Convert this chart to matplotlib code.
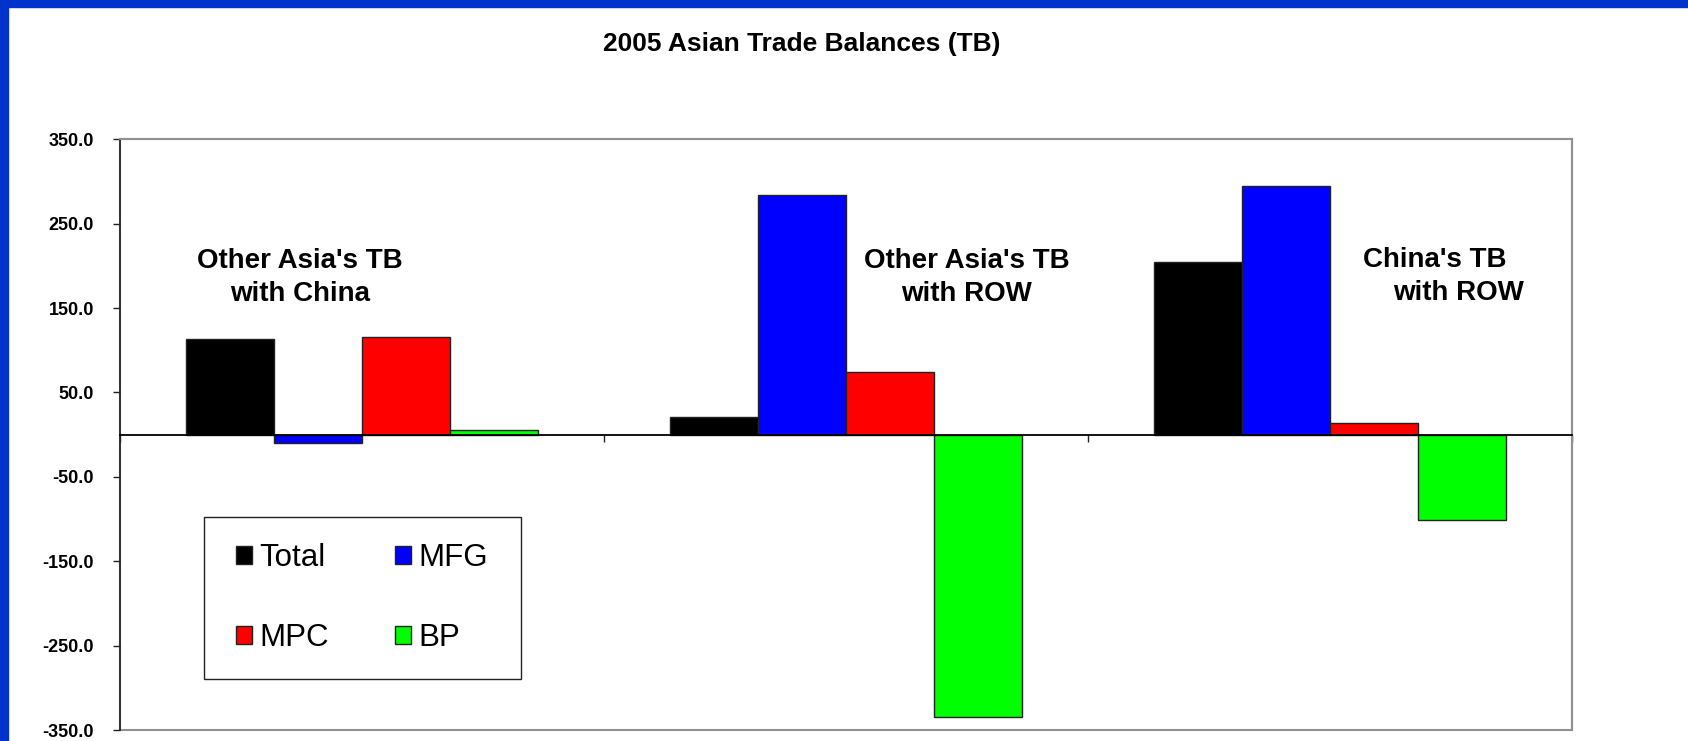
import numpy as np
import matplotlib.pyplot as plt
from matplotlib.patches import Rectangle

plt.rcParams['font.family'] = ['Liberation Sans', 'DejaVu Sans']

# trade balances, billions
groups = ["Other Asia's TB\nwith China", "Other Asia's TB\nwith ROW", "China's TB\nwith ROW"]
series = ['Total', 'MFG', 'MPC', 'BP']
total = [113, 21, 205]
mfg = [-10, 284, 295]
mpc = [116, 74, 14]
bp = [5, -335, -101]
colors = ['#000000', '#0000FF', '#FF0000', '#00FF00']
yticks = [-350, -250, -150, -50, 50, 150, 250, 350]

fig = plt.figure(figsize=(16.88, 7.41), dpi=100)
fig.patch.set_facecolor('white')

# blue frame on top and left
fig.add_artist(Rectangle((0, 1 - 7 / 741), 1, 7 / 741, transform=fig.transFigure,
                         color='#0033CC', zorder=10))
fig.add_artist(Rectangle((0, 0), 8 / 1688, 1, transform=fig.transFigure,
                         color='#0033CC', zorder=10))

ax = fig.add_axes([0.0708, 0.01484, 0.8603, 0.7972])

x = np.arange(len(groups))
w = 1 / 5.5
vals = [total, mfg, mpc, bp]
bars = []
for i, (v, c, name) in enumerate(zip(vals, colors, series)):
    b = ax.bar(x + (i - 1.5) * w, v, width=w, color=c, edgecolor='#222222',
               linewidth=1.0, label=name, zorder=3)
    bars.append(b)

ax.set_xlim(-0.5, 2.5)
ax.set_ylim(-350, 350)
ax.set_yticks(yticks)
ax.set_yticklabels(['%.1f' % t for t in yticks], fontsize=13, fontweight='bold')
ax.tick_params(axis='y', direction='out', length=5, width=1, pad=13.5, color='#222222')

# category axis sits on the zero line
ax.spines['bottom'].set_position(('data', 0))
ax.spines['bottom'].set_color('black')
ax.spines['bottom'].set_linewidth(1.3)
ax.spines['bottom'].set_zorder(4)
ax.set_xticks([-0.5, 0.5, 1.5, 2.5])
ax.set_xticklabels([])
ax.tick_params(axis='x', direction='out', length=5, width=1, color='#222222')

ax.spines['left'].set_color('#222222')
ax.spines['left'].set_linewidth(1.2)
for s in ['top', 'right']:
    ax.spines[s].set_color('#909090')
    ax.spines[s].set_linewidth(1.5)
# lower edge of plot area
ax.add_patch(Rectangle((0, 0), 1, 1, transform=ax.transAxes, fill=False,
                       ec='#909090', lw=1.5, zorder=0, clip_on=False))

# group labels
ax.text(0.1241, 0.766, groups[0], transform=ax.transAxes, ha='center', va='center',
        fontsize=20, fontweight='bold', linespacing=1.35)
ax.text(0.5836, 0.766, groups[1], transform=ax.transAxes, ha='center', va='center',
        fontsize=20, fontweight='bold', linespacing=1.35)
line1, line2 = groups[2].split('\n')
ax.text(0.9058, 0.796, line1, transform=ax.transAxes, ha='center', va='center',
        fontsize=20, fontweight='bold')
ax.text(0.9222, 0.740, line2, transform=ax.transAxes, ha='center', va='center',
        fontsize=20, fontweight='bold')

# legend box drawn separately, entries filled row by row
ax.add_patch(Rectangle((0.0582, 0.0863), 0.2183, 0.2748, transform=ax.transAxes,
                       fc='white', ec='#222222', lw=1.0, zorder=5))
order = [0, 2, 1, 3]
leg = ax.legend([bars[i] for i in order], [series[i] for i in order], ncol=2,
                loc='center', bbox_to_anchor=(0.167, 0.2235), fontsize=22.5,
                frameon=False, borderpad=0, labelspacing=1.6,
                handlelength=0.51, handleheight=0.54, handletextpad=0.26,
                columnspacing=2.1, borderaxespad=0)
leg.set_zorder(6)
for p in leg.get_patches():
    p.set_edgecolor('#222222')

fig.text(0.4748, 0.9406, '2005 Asian Trade Balances (TB)', ha='center', va='center',
         fontsize=19, fontweight='bold')

plt.savefig('out.png', dpi=100)
